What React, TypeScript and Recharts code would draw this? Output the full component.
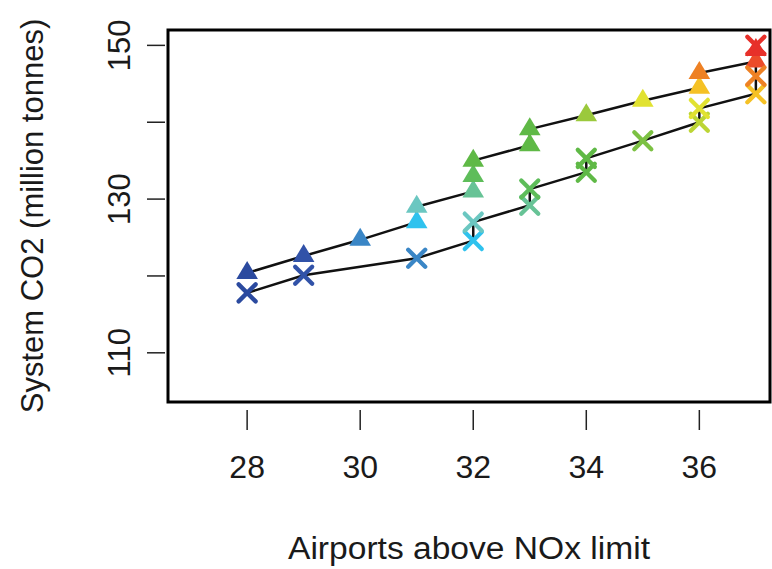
import { ScatterChart, Scatter, XAxis, YAxis, ReferenceArea, Label } from 'recharts';

// upper series (filled triangles)
const triangleAirports = [28, 29, 30, 31, 31, 32, 32, 32, 33, 33, 34, 35, 36, 36, 37, 37];
const triangleCO2 = [120.4, 122.6, 124.7, 127.0, 129.0, 131.0, 133.0, 135.0, 137.0, 139.1, 140.9, 142.8, 144.5, 146.4, 147.9, 149.4];
const triangleLevel = [0, 1, 2, 3, 4, 5, 6, 7, 7, 7, 9, 11, 12, 13, 14, 15];

// lower series (crosses)
const crossAirports = [28, 29, 31, 32, 32, 33, 33, 34, 34, 35, 36, 36, 37, 37, 37];
const crossCO2 = [117.8, 120.1, 122.3, 124.6, 127.0, 129.2, 131.3, 133.5, 135.3, 137.6, 140.0, 141.8, 143.7, 146.0, 150.0];
const crossLevel = [0, 1, 2, 3, 4, 5, 6, 7, 7, 8, 10, 11, 12, 13, 15];

const xTicks = [28, 30, 32, 34, 36];
const yTicks = [110, 120, 130, 140, 150];
const yLabelled = [110, 130, 150];

const palette = [
  '#2B4A9F', '#3152A8', '#3A86C6', '#2FC2EE', '#6BC7C1', '#67C396', '#5EBD5A', '#5FB946',
  '#7CC143', '#9BC93C', '#BCD535', '#E1E231', '#F5C125', '#EE8124', '#EC4B2A', '#E7302A',
];

const X_DOMAIN: [number, number] = [26.6, 37.25];
const Y_DOMAIN: [number, number] = [103.6, 152];
const FONT = '"Liberation Sans", Arial, Helvetica, sans-serif';

const triangleData = triangleAirports.map((x, i) => ({ x, co2: triangleCO2[i], level: triangleLevel[i] }));
const crossData = crossAirports.map((x, i) => ({ x, co2: crossCO2[i], level: crossLevel[i] }));

const Triangle = (props: any) => {
  const { cx, cy, payload } = props;
  const r = 12;
  const hw = r * 0.9;
  return (
    <polygon
      points={`${cx},${cy - r} ${cx + hw},${cy + r / 2} ${cx - hw},${cy + r / 2}`}
      fill={palette[payload.level]}
    />
  );
};

const Cross = (props: any) => {
  const { cx, cy, payload } = props;
  const h = 8.5;
  const c = palette[payload.level];
  return (
    <g stroke={c} strokeWidth={4.3} strokeLinecap="round">
      <line x1={cx - h} y1={cy - h} x2={cx + h} y2={cy + h} />
      <line x1={cx - h} y1={cy + h} x2={cx + h} y2={cy - h} />
    </g>
  );
};

const NoDot = () => <g />;

const XTick = (props: any) => {
  const { x, y, payload } = props;
  return (
    <g>
      <line x1={x} x2={x} y1={y + 8} y2={y + 28} stroke="#222" strokeWidth={1.5} />
      <text x={x} y={y + 65} textAnchor="middle" dominantBaseline="central" fontSize={32} fill="#1a1a1a" fontFamily={FONT}>
        {payload.value}
      </text>
    </g>
  );
};

const YTick = (props: any) => {
  const { x, y, payload } = props;
  return (
    <g>
      <line x1={x - 21} x2={x - 3} y1={y} y2={y} stroke="#222" strokeWidth={1.5} />
      {yLabelled.includes(payload.value) && (
        <text
          x={x - 48}
          y={y}
          transform={`rotate(-90, ${x - 48}, ${y})`}
          textAnchor="middle"
          dominantBaseline="central"
          fontSize={31}
          fill="#1a1a1a"
          fontFamily={FONT}
        >
          {payload.value}
        </text>
      )}
    </g>
  );
};

export default function App() {
  return (
    <div style={{ position: 'absolute', left: 0, top: 0, background: '#fff' }}>
      <ScatterChart width={772} height={569} margin={{ top: 30, right: 2, bottom: 0, left: 0 }}>
        <XAxis
          dataKey="x"
          type="number"
          domain={X_DOMAIN}
          ticks={xTicks}
          axisLine={false}
          tickLine={false}
          tickSize={0}
          tickMargin={0}
          tick={<XTick />}
          height={167}
        >
          <Label
            content={(p: any) => {
              const vb = p.viewBox;
              return (
                <text
                  x={vb.x + vb.width / 2}
                  y={vb.y + 146}
                  textAnchor="middle"
                  dominantBaseline="central"
                  fontSize={31}
                  textLength={362}
                  lengthAdjust="spacingAndGlyphs"
                  fill="#1a1a1a"
                  fontFamily={FONT}
                >
                  Airports above NOx limit
                </text>
              );
            }}
          />
        </XAxis>
        <YAxis
          dataKey="co2"
          type="number"
          domain={Y_DOMAIN}
          ticks={yTicks}
          axisLine={false}
          tickLine={false}
          tickSize={0}
          tickMargin={0}
          tick={<YTick />}
          width={168}
        >
          <Label
            content={(p: any) => {
              const vb = p.viewBox;
              const cx = vb.x + 32;
              const cy = vb.y + vb.height / 2;
              return (
                <text x={cx} y={cy} transform={`rotate(-90, ${cx}, ${cy})`} textAnchor="middle" dominantBaseline="central" fontSize={31} fill="#1a1a1a" fontFamily={FONT}>
                  System CO2 (million tonnes)
                </text>
              );
            }}
          />
        </YAxis>
        <Scatter data={triangleData} line={{ stroke: '#111', strokeWidth: 2.5 }} shape={<NoDot />} isAnimationActive={false} />
        <Scatter data={crossData} line={{ stroke: '#111', strokeWidth: 2.5 }} shape={<NoDot />} isAnimationActive={false} />
        <Scatter data={triangleData} shape={<Triangle />} isAnimationActive={false} />
        <Scatter data={crossData} shape={<Cross />} isAnimationActive={false} />
        <ReferenceArea
          x1={X_DOMAIN[0]}
          x2={X_DOMAIN[1]}
          y1={Y_DOMAIN[0]}
          y2={Y_DOMAIN[1]}
          fill="none"
          stroke="#000"
          strokeWidth={3}
          ifOverflow="visible"
        />
      </ScatterChart>
    </div>
  );
}
